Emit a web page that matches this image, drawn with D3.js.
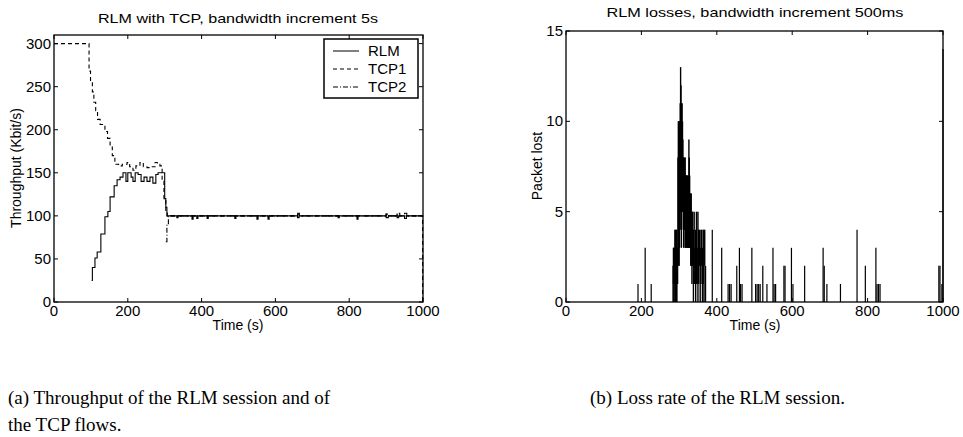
<!DOCTYPE html>
<html>
<head>
<meta charset="utf-8">
<script src="https://cdn.jsdelivr.net/npm/d3@7"></script>
<style>
  body { margin: 0; background: #fff; }
  text { font-family: "Liberation Sans", Arial, sans-serif; fill: #000; }
  .cap { font-family: "Liberation Serif", "Times New Roman", serif; }
</style>
</head>
<body>
<svg id="fig" width="963" height="437"></svg>
<script>
// ---- left panel: throughput (Kbit/s), step values starting at time t ----
var rlmT = [102, 104, 111, 117, 127, 138, 146, 152, 163, 171, 179, 187, 195, 200, 209, 214, 220, 228, 236, 244, 252, 260, 268, 276, 282, 296, 300, 303, 306,
  333, 336, 374, 377, 387, 390, 415, 418, 490, 493, 550, 553, 580, 583, 660, 664, 770, 773, 821, 824, 900, 906, 930, 934, 950, 955, 998];
var rlmV = [25, 40, 51, 58, 79, 99, 105, 122, 135, 142, 145, 150, 140, 150, 145, 140, 150, 148, 140, 145, 140, 145, 138, 148, 150, 150, 120, 110, 100,
  98, 100, 96, 100, 97, 100, 97, 100, 97, 100, 96, 100, 96, 100, 98, 100, 98, 100, 96, 100, 98, 100, 98, 100, 97, 100, 100];

var tcp1T = [0, 95, 99, 104, 108, 113, 118, 125, 132, 138, 145, 152, 158, 165, 175, 185, 198, 205, 214, 222, 233, 242, 252, 262, 274, 280, 287, 293, 298, 303, 307,
  660, 664, 900, 905, 930, 936, 998, 999];
var tcp1V = [300, 268, 256, 244, 232, 222, 212, 206, 206, 198, 190, 180, 170, 160, 158, 160, 162, 157, 153, 158, 162, 157, 156, 157, 162, 160, 158, 140, 120, 105, 100,
  102, 100, 102, 100, 102, 100, 100, 0];

var tcp2T = [303, 306, 310, 660, 665, 900, 906, 930, 937, 950, 956, 999];
var tcp2V = [70, 90, 100, 103, 100, 102, 100, 103, 100, 103, 100, 100];

var thrTicksX = [0, 200, 400, 600, 800, 1000];
var thrTicksY = [0, 50, 100, 150, 200, 250, 300];
var legendNames = ["RLM", "TCP1", "TCP2"];

// ---- right panel: packets lost per 500 ms ----
// dense burst: time, lower and upper extent of the trace
var burstT  = [284, 285, 286, 287, 288, 289, 290, 291, 292, 293, 294, 295, 296, 297, 298, 299, 300, 301, 302, 303, 304, 305, 306, 307,
  308, 309, 310, 311, 312, 313, 314, 315, 316, 317, 318, 319, 320, 321, 322, 323, 324, 325, 326, 327, 328, 329, 330, 331,
  332, 334, 336, 338, 340, 342, 344, 346, 348, 350, 352, 354, 356, 358, 360, 362, 364, 366, 368, 370];
var burstLo = [0, 1, 0, 1, 1, 0, 0, 1, 1, 0, 0, 1, 1, 2, 3, 2, 2, 3, 4, 5, 6, 4, 3, 4,
  5, 5, 6, 5, 3, 4, 5, 4, 3, 3, 4, 3, 3, 4, 3, 3, 3, 3, 3, 3, 3, 3, 3, 2,
  2, 1, 2, 0, 1, 1, 0, 1, 1, 0, 1, 2, 0, 1, 2, 0, 1, 0, 2, 0];
var burstHi = [2, 3, 3, 3, 3, 4, 4, 3, 3, 4, 4, 3, 3, 8, 10, 10, 10, 9, 10, 11, 13, 12, 11, 10,
  11, 10, 9, 8, 8, 7, 7, 8, 8, 7, 7, 7, 7, 7, 7, 6, 6, 7, 9, 8, 7, 6, 6, 6,
  6, 5, 5, 4, 5, 3, 4, 5, 3, 5, 4, 4, 3, 4, 4, 3, 4, 4, 4, 2];
// isolated losses
var lossT = [191, 210, 226, 388, 413, 430, 434, 438, 453, 460, 463, 467, 493, 503, 507, 511, 515, 522, 533, 549, 552, 556,
  578, 581, 598, 602, 633, 682, 685, 692, 728, 772, 794, 822, 825, 829, 833, 989, 992, 997, 1000];
var lossV = [1, 3, 1, 4, 3, 1, 1, 1, 2, 3, 1, 1, 3, 1, 1, 1, 1, 2, 1, 3, 1, 1,
  2, 2, 3, 1, 2, 3, 2, 1, 1, 4, 2, 3, 1, 1, 1, 2, 2, 1, 14];
var lossTicksX = [0, 200, 400, 600, 800, 1000];
var lossTicksY = [0, 5, 10, 15];

var svg = d3.select("#fig");

function frame(g, x, y, tx, ty) {
  var x0 = x.range()[0], x1 = x.range()[1], y0 = y.range()[0], y1 = y.range()[1];
  g.append("rect").attr("x", x0).attr("y", y1).attr("width", x1 - x0).attr("height", y0 - y1)
    .attr("fill", "none").attr("stroke", "#000").attr("stroke-width", 1.3);
  tx.forEach(function (t) {
    g.append("line").attr("x1", x(t)).attr("x2", x(t)).attr("y1", y0).attr("y2", y0 - 4).attr("stroke", "#000");
    g.append("line").attr("x1", x(t)).attr("x2", x(t)).attr("y1", y1).attr("y2", y1 + 4).attr("stroke", "#000");
    g.append("text").attr("x", x(t)).attr("y", y0 + 14).attr("text-anchor", "middle")
      .attr("font-size", 15).text(t);
  });
  ty.forEach(function (t) {
    g.append("line").attr("x1", x0).attr("x2", x0 + 4).attr("y1", y(t)).attr("y2", y(t)).attr("stroke", "#000");
    g.append("line").attr("x1", x1).attr("x2", x1 - 4).attr("y1", y(t)).attr("y2", y(t)).attr("stroke", "#000");
    g.append("text").attr("x", x0 - 3).attr("y", y(t) + 5).attr("text-anchor", "end")
      .attr("font-size", 15).text(t);
  });
}

// left panel
var xa = d3.scaleLinear().domain([0, 1000]).range([54, 423]);
var ya = d3.scaleLinear().domain([0, 310]).range([302, 35]);
var ga = svg.append("g");

var stepLine = d3.line().curve(d3.curveStepAfter)
  .x(function (d) { return xa(d[0]); }).y(function (d) { return ya(d[1]); });
function pairs(t, v) { return t.map(function (d, i) { return [d, v[i]]; }); }

var series = [
  { data: pairs(tcp1T, tcp1V), dash: "4,3" },
  { data: pairs(tcp2T, tcp2V), dash: "5,2,1,2" },
  { data: pairs(rlmT, rlmV), dash: null }
];
series.forEach(function (s) {
  ga.append("path").attr("d", stepLine(s.data)).attr("fill", "none")
    .attr("stroke", "#000").attr("stroke-width", 1.1)
    .attr("stroke-dasharray", s.dash);
});
frame(ga, xa, ya, thrTicksX, thrTicksY);

// the original figure is stretched sideways, so titles are fitted to their width
ga.append("text").attr("x", 238).attr("y", 23).attr("text-anchor", "middle")
  .attr("font-size", 13).attr("textLength", 280).attr("lengthAdjust", "spacingAndGlyphs")
  .text("RLM with TCP, bandwidth increment 5s");
ga.append("text").attr("x", 238).attr("y", 330).attr("text-anchor", "middle")
  .attr("font-size", 14).text("Time (s)");
ga.append("text").attr("transform", "translate(21,168) rotate(-90)").attr("text-anchor", "middle")
  .attr("font-size", 14).text("Throughput (Kbit/s)");

// legend
var lg = ga.append("g").attr("transform", "translate(324,39)");
lg.append("rect").attr("width", 94).attr("height", 59).attr("fill", "#fff")
  .attr("stroke", "#000").attr("stroke-width", 1.5);
var legDash = [null, "4,3", "5,2,1,2"];
legendNames.forEach(function (n, i) {
  var yy = 12 + i * 18;
  lg.append("line").attr("x1", 9).attr("x2", 35).attr("y1", yy).attr("y2", yy)
    .attr("stroke", "#000").attr("stroke-dasharray", legDash[i]);
  lg.append("text").attr("x", 44).attr("y", yy + 5).attr("font-size", 15).text(n);
});

// right panel
var xb = d3.scaleLinear().domain([0, 1000]).range([566, 943]);
var yb = d3.scaleLinear().domain([0, 15]).range([302, 31]);
var gb = svg.append("g");

gb.selectAll(".burst").data(burstT).enter().append("line")
  .attr("x1", function (d) { return xb(d); }).attr("x2", function (d) { return xb(d); })
  .attr("y1", function (d, i) { return yb(burstLo[i]); })
  .attr("y2", function (d, i) { return yb(burstHi[i]); })
  .attr("stroke", "#000").attr("stroke-width", 1.4);
gb.selectAll(".loss").data(lossT).enter().append("line")
  .attr("x1", function (d) { return xb(d); }).attr("x2", function (d) { return xb(d); })
  .attr("y1", yb(0))
  .attr("y2", function (d, i) { return yb(lossV[i]); })
  .attr("stroke", "#000").attr("stroke-width", 1.2);
frame(gb, xb, yb, lossTicksX, lossTicksY);

gb.append("text").attr("x", 755).attr("y", 17).attr("text-anchor", "middle")
  .attr("font-size", 13).attr("textLength", 297).attr("lengthAdjust", "spacingAndGlyphs")
  .text("RLM losses, bandwidth increment 500ms");
gb.append("text").attr("x", 755).attr("y", 330).attr("text-anchor", "middle")
  .attr("font-size", 14).text("Time (s)");
gb.append("text").attr("transform", "translate(542,166) rotate(-90)").attr("text-anchor", "middle")
  .attr("font-size", 14).text("Packet lost");

// captions
svg.append("text").attr("class", "cap").attr("x", 8).attr("y", 404).attr("font-size", 19)
  .text("(a) Throughput of the RLM session and of");
svg.append("text").attr("class", "cap").attr("x", 8).attr("y", 431).attr("font-size", 19)
  .text("the TCP flows.");
svg.append("text").attr("class", "cap").attr("x", 590).attr("y", 404).attr("font-size", 19)
  .text("(b) Loss rate of the RLM session.");
</script>
</body>
</html>
